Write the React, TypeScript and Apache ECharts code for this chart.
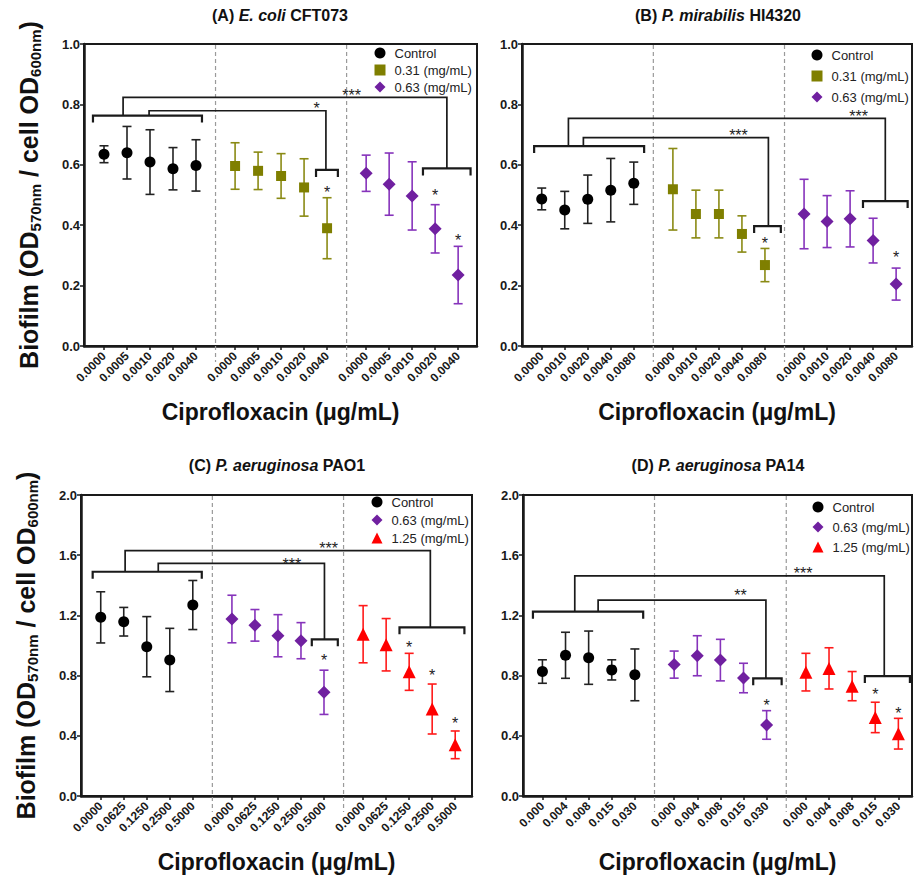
import React, { useEffect, useRef } from 'react';
import * as echarts from 'echarts';

const FONT = '"Liberation Sans", Arial, Helvetica, sans-serif';

// x positions of the 15 concentrations (3 groups of 5)
const xPositions = [0, 1, 2, 3, 4, 5.7, 6.7, 7.7, 8.7, 9.7, 11.4, 12.4, 13.4, 14.4, 15.4];
const separators = [4.85, 10.55];

// ---------- Panel A: E. coli CFT073 ----------
const ticksA = ['0.0000', '0.0005', '0.0010', '0.0020', '0.0040'];
const controlA = [0.635, 0.640, 0.609, 0.587, 0.598];
const controlSdA = [0.028, 0.087, 0.107, 0.070, 0.085];
const c031A = [0.596, 0.580, 0.563, 0.525, 0.390];
const c031SdA = [0.077, 0.062, 0.074, 0.095, 0.101];
const c063A = [0.572, 0.536, 0.497, 0.388, 0.235];
const c063SdA = [0.060, 0.103, 0.113, 0.080, 0.095];
const bracketsA = [[-0.48, 4.26, 0.763], [9.22, 10.17, 0.583], [13.87, 15.94, 0.588]];
const linksA = [[0.83, 14.91, 0.823, 0.763, 0.588], [1.96, 9.65, 0.779, 0.763, 0.583]];
const sigA = [[10.77, 0.842], [9.25, 0.801], [9.7, 0.523], [14.4, 0.510], [15.4, 0.361]];
const sigTextA = ['***', '*', '*', '*', '*'];

// ---------- Panel B: P. mirabilis HI4320 ----------
const ticksB = ['0.0000', '0.0010', '0.0020', '0.0040', '0.0080'];
const controlB = [0.487, 0.450, 0.486, 0.516, 0.539];
const controlSdB = [0.036, 0.062, 0.080, 0.105, 0.070];
const c031B = [0.519, 0.437, 0.437, 0.371, 0.268];
const c031SdB = [0.135, 0.079, 0.079, 0.060, 0.055];
const c063B = [0.437, 0.412, 0.421, 0.349, 0.205];
const c063SdB = [0.115, 0.086, 0.093, 0.074, 0.053];
const bracketsB = [[-0.33, 4.45, 0.662], [9.23, 10.39, 0.397], [13.96, 15.9, 0.480]];
const linksB = [[1.16, 14.93, 0.754, 0.662, 0.480], [1.81, 9.85, 0.690, 0.662, 0.397]];
const sigB = [[8.55, 0.710], [13.77, 0.773], [9.7, 0.353], [15.4, 0.307]];
const sigTextB = ['***', '***', '*', '*'];

// ---------- Panel C: P. aeruginosa PAO1 ----------
const ticksC = ['0.0000', '0.0625', '0.1250', '0.2500', '0.5000'];
const controlC = [1.187, 1.158, 0.992, 0.904, 1.269];
const controlSdC = [0.170, 0.095, 0.200, 0.210, 0.163];
const c063C = [1.176, 1.134, 1.065, 1.032, 0.689];
const c063SdC = [0.158, 0.105, 0.140, 0.120, 0.147];
const c125C = [1.075, 1.005, 0.825, 0.578, 0.340];
const c125SdC = [0.190, 0.174, 0.123, 0.166, 0.092];
const bracketsC = [[-0.35, 4.39, 1.490], [9.17, 10.3, 1.041], [12.98, 15.8, 1.121]];
const linksC = [[1.06, 14.32, 1.630, 1.490, 1.121], [2.5, 9.72, 1.546, 1.490, 1.041]];
const sigC = [[9.9, 1.674], [8.3, 1.568], [9.7, 0.926], [13.4, 1.015], [14.4, 0.826], [15.4, 0.510]];
const sigTextC = ['***', '***', '*', '*', '*', '*'];

// ---------- Panel D: P. aeruginosa PA14 ----------
const ticksD = ['0.000', '0.004', '0.008', '0.015', '0.030'];
const controlD = [0.827, 0.935, 0.919, 0.838, 0.805];
const controlSdD = [0.078, 0.153, 0.177, 0.067, 0.172];
const c063D = [0.873, 0.932, 0.903, 0.784, 0.472];
const c063SdD = [0.090, 0.133, 0.138, 0.098, 0.095];
const c125D = [0.823, 0.848, 0.730, 0.522, 0.414];
const c125SdD = [0.125, 0.137, 0.097, 0.101, 0.102];
const bracketsD = [[-0.41, 4.36, 1.225], [9.12, 10.35, 0.782], [13.95, 15.9, 0.797]];
const linksD = [[1.4, 14.79, 1.462, 1.225, 0.797], [2.41, 9.67, 1.302, 1.225, 0.782]];
const sigD = [[11.28, 1.502], [8.57, 1.357], [9.7, 0.631], [14.4, 0.698], [15.4, 0.578]];
const sigTextD = ['***', '**', '*', '*', '*'];

const BLACK = '#000000';
const OLIVE = '#7f7f00';
const PURPLE = '#7020a0';
const RED = '#ff0000';

const G_CONTROL = { name: 'Control', symbol: 'circle', size: 11, color: BLACK, bar: '#222222' };
const G_031 = { name: '0.31 (mg/mL)', symbol: 'rect', size: 10, color: OLIVE, bar: '#8a8a14' };
const G_063 = { name: '0.63 (mg/mL)', symbol: 'diamond', size: 13, color: PURPLE, bar: '#8633bb' };
const G_125 = { name: '1.25 (mg/mL)', symbol: 'triangle', size: 13, color: RED, bar: '#ff1a1a' };

const panels = [
  {
    grid: { left: 84, top: 44, width: 393, height: 302 }, xMin: -0.87, xMax: 16.22, yMax: 1, yInterval: 0.2,
    ticks: ticksA,
    groups: [
      { ...G_CONTROL, mean: controlA, sd: controlSdA },
      { ...G_031, mean: c031A, sd: c031SdA },
      { ...G_063, mean: c063A, sd: c063SdA },
    ],
    brackets: bracketsA, links: linksA, sig: sigA, sigText: sigTextA,
    legend: { left: 374.5, top: 46, gap: 3 },
    title: ['(A) ', 'E. coli', ' CFT073'], titleX: 280, titleY: 15, yName: true,
  },
  {
    grid: { left: 522, top: 44, width: 390, height: 302 }, xMin: -0.857, xMax: 16.09, yMax: 1, yInterval: 0.2,
    ticks: ticksB,
    groups: [
      { ...G_CONTROL, mean: controlB, sd: controlSdB },
      { ...G_031, mean: c031B, sd: c031SdB },
      { ...G_063, mean: c063B, sd: c063SdB },
    ],
    brackets: bracketsB, links: linksB, sig: sigB, sigText: sigTextB,
    legend: { left: 811.5, top: 48, gap: 7 },
    title: ['(B) ', 'P. mirabilis', ' HI4320'], titleX: 718, titleY: 15, yName: false,
  },
  {
    grid: { left: 81, top: 495, width: 391, height: 301 }, xMin: -0.857, xMax: 16.13, yMax: 2, yInterval: 0.4,
    ticks: ticksC,
    groups: [
      { ...G_CONTROL, mean: controlC, sd: controlSdC },
      { ...G_063, mean: c063C, sd: c063SdC },
      { ...G_125, mean: c125C, sd: c125SdC },
    ],
    brackets: bracketsC, links: linksC, sig: sigC, sigText: sigTextC,
    legend: { left: 371.5, top: 495, gap: 4 },
    title: ['(C) ', 'P. aeruginosa', ' PAO1'], titleX: 277, titleY: 465, yName: true,
  },
  {
    grid: { left: 523, top: 495, width: 389, height: 301 }, xMin: -0.84, xMax: 15.99, yMax: 2, yInterval: 0.4,
    ticks: ticksD,
    groups: [
      { ...G_CONTROL, mean: controlD, sd: controlSdD },
      { ...G_063, mean: c063D, sd: c063SdD },
      { ...G_125, mean: c125D, sd: c125SdD },
    ],
    brackets: bracketsD, links: linksD, sig: sigD, sigText: sigTextD,
    legend: { left: 812.5, top: 500, gap: 6 },
    title: ['(D) ', 'P. aeruginosa', ' PA14'], titleX: 718, titleY: 465, yName: false,
  },
];

function labelFor(ticks: string[], v: number) {
  const i = xPositions.findIndex((p) => Math.abs(p - v) < 1e-6);
  return i >= 0 ? ticks[i % 5] : '';
}

function buildOption() {
  const grids: any[] = [];
  const xAxes: any[] = [];
  const yAxes: any[] = [];
  const series: any[] = [];
  const legends: any[] = [];
  const graphics: any[] = [];

  panels.forEach((p, k) => {
    grids.push({
      ...p.grid, show: true, borderColor: '#1a1a1a', borderWidth: 2, backgroundColor: 'transparent',
      containLabel: false, outerBoundsMode: 'none',
    });
    xAxes.push({
      gridIndex: k, type: 'value', min: p.xMin, max: p.xMax,
      splitLine: { show: false },
      axisLine: { show: true, onZero: false, lineStyle: { color: '#1a1a1a', width: 2.5 } },
      axisTick: { show: true, customValues: xPositions, length: 4, lineStyle: { color: '#1a1a1a', width: 1.5 } },
      axisLabel: {
        customValues: xPositions, rotate: 45, margin: 8,
        formatter: (v: number) => labelFor(p.ticks, v),
        fontFamily: FONT, fontWeight: 'bold', fontSize: 12, color: '#1a1a1a',
      },
      name: 'Ciprofloxacin (\u03bcg/mL)', nameLocation: 'middle', nameGap: 54, nameMoveOverlap: false,
      nameTextStyle: { fontFamily: FONT, fontWeight: 'bold', fontSize: 23, color: '#111' },
    });
    yAxes.push({
      gridIndex: k, type: 'value', min: 0, max: p.yMax, interval: p.yInterval,
      splitLine: { show: false },
      axisLine: { show: true, onZero: false, lineStyle: { color: '#1a1a1a', width: 2.5 } },
      axisTick: { show: true, length: 4, lineStyle: { color: '#1a1a1a', width: 1.5 } },
      axisLabel: {
        margin: 4, formatter: (v: number) => v.toFixed(1),
        fontFamily: FONT, fontWeight: 'bold', fontSize: 13, color: '#1a1a1a',
      },
      ...(p.yName ? {
        name: '{b|Biofilm (OD}{s|570nm}{b| / cell OD}{s|600nm}{b|)}',
        nameLocation: 'middle', nameRotate: 90, nameGap: 41, nameMoveOverlap: false,
        nameTextStyle: {
          rich: {
            b: { fontFamily: FONT, fontWeight: 'bold', fontSize: 25, color: '#111', lineHeight: 29 },
            s: { fontFamily: FONT, fontWeight: 'bold', fontSize: 15, color: '#111', lineHeight: 12, verticalAlign: 'bottom' },
          },
        },
      } : {}),
    });

    // dashed separators between groups
    series.push({
      type: 'custom', xAxisIndex: k, yAxisIndex: k, z: 1, silent: true,
      data: separators.map((x) => [x, p.yMax]),
      renderItem: (params: any, api: any) => {
        const top = api.coord([api.value(0), api.value(1)]);
        const bot = api.coord([api.value(0), 0]);
        return {
          type: 'line',
          shape: { x1: top[0], y1: top[1] + 1, x2: bot[0], y2: bot[1] + 16 },
          style: { stroke: '#9a9a9a', lineWidth: 1.2, lineDash: [4, 3] },
        };
      },
    });

    p.groups.forEach((g, gi) => {
      const xs = xPositions.slice(gi * 5, gi * 5 + 5);
      // error bars
      series.push({
        type: 'custom', xAxisIndex: k, yAxisIndex: k, z: 3, silent: true,
        data: g.mean.map((m, i) => [xs[i], m, g.sd[i]]),
        renderItem: (params: any, api: any) => {
          const x = api.value(0), m = api.value(1), sd = api.value(2);
          const t = api.coord([x, m + sd]);
          const b = api.coord([x, m - sd]);
          const hw = 4.5;
          const st = { stroke: g.bar, lineWidth: 1.6 };
          return {
            type: 'group',
            children: [
              { type: 'line', shape: { x1: t[0], y1: t[1], x2: b[0], y2: b[1] }, style: st },
              { type: 'line', shape: { x1: t[0] - hw, y1: t[1], x2: t[0] + hw, y2: t[1] }, style: st },
              { type: 'line', shape: { x1: b[0] - hw, y1: b[1], x2: b[0] + hw, y2: b[1] }, style: st },
            ],
          };
        },
      });
      // markers
      series.push({
        type: 'scatter', name: g.name, xAxisIndex: k, yAxisIndex: k, z: 4,
        symbol: g.symbol, symbolSize: g.size,
        itemStyle: { color: g.color, opacity: 1 },
        emphasis: { disabled: true },
        data: g.mean.map((m, i) => [xs[i], m]),
      });
    });

    // group brackets
    series.push({
      type: 'custom', xAxisIndex: k, yAxisIndex: k, z: 2, silent: true,
      data: p.brackets,
      renderItem: (params: any, api: any) => {
        const a = api.coord([api.value(0), api.value(2)]);
        const b = api.coord([api.value(1), api.value(2)]);
        return {
          type: 'polyline',
          shape: { points: [[a[0], a[1] + 7], [a[0], a[1]], [b[0], b[1]], [b[0], b[1] + 7]] },
          style: { stroke: '#1a1a1a', lineWidth: 2.2, fill: 'none' },
        };
      },
    });
    // comparison links
    series.push({
      type: 'custom', xAxisIndex: k, yAxisIndex: k, z: 2, silent: true,
      data: p.links,
      renderItem: (params: any, api: any) => {
        const xs = api.value(0), xe = api.value(1), yt = api.value(2), ys = api.value(3), ye = api.value(4);
        const pts = [api.coord([xs, ys]), api.coord([xs, yt]), api.coord([xe, yt]), api.coord([xe, ye])];
        return {
          type: 'polyline',
          shape: { points: pts },
          style: { stroke: '#1a1a1a', lineWidth: 1.7, fill: 'none' },
        };
      },
    });
    // significance marks
    series.push({
      type: 'custom', xAxisIndex: k, yAxisIndex: k, z: 5, silent: true,
      data: p.sig,
      renderItem: (params: any, api: any) => {
        const c = api.coord([api.value(0), api.value(1)]);
        return {
          type: 'text', x: c[0], y: c[1] + 4,
          style: {
            text: p.sigText[params.dataIndex], fontFamily: FONT, fontSize: 16, fill: '#222',
            align: 'center', verticalAlign: 'middle', textAlign: 'center', textVerticalAlign: 'middle',
          },
        };
      },
    });

    legends.push({
      orient: 'vertical', left: p.legend.left, top: p.legend.top, itemWidth: 11, itemHeight: 11,
      itemGap: p.legend.gap, selectedMode: false, padding: 0,
      data: p.groups.map((g) => ({ name: g.name, icon: g.symbol })),
      textStyle: { fontFamily: FONT, fontSize: 13, color: '#222', lineHeight: 14, padding: [0, 0, 0, 4] },
    });

    graphics.push({
      type: 'text', x: p.titleX, y: p.titleY, silent: true,
      style: {
        text: `{b|${p.title[0]}}{i|${p.title[1]}}{b|${p.title[2]}}`,
        align: 'center', verticalAlign: 'middle', textAlign: 'center', textVerticalAlign: 'middle',
        rich: {
          b: { fontFamily: FONT, fontWeight: 'bold', fontSize: 16, fill: '#111', color: '#111' },
          i: { fontFamily: FONT, fontWeight: 'bold', fontStyle: 'italic', fontSize: 16, fill: '#111', color: '#111' },
        },
      },
    });
  });

  return {
    animation: false,
    backgroundColor: '#ffffff',
    tooltip: { show: false },
    grid: grids,
    xAxis: xAxes,
    yAxis: yAxes,
    legend: legends,
    series,
    graphic: graphics,
  };
}

export default function App() {
  const ref = useRef<HTMLDivElement>(null);
  useEffect(() => {
    if (!ref.current) return;
    const chart = echarts.init(ref.current, null, { renderer: 'svg' });
    chart.setOption(buildOption() as any);
    return () => chart.dispose();
  }, []);
  return (
    <div
      ref={ref}
      style={{ position: 'absolute', left: 0, top: 0, width: 914, height: 879, background: '#fff' }}
    />
  );
}
